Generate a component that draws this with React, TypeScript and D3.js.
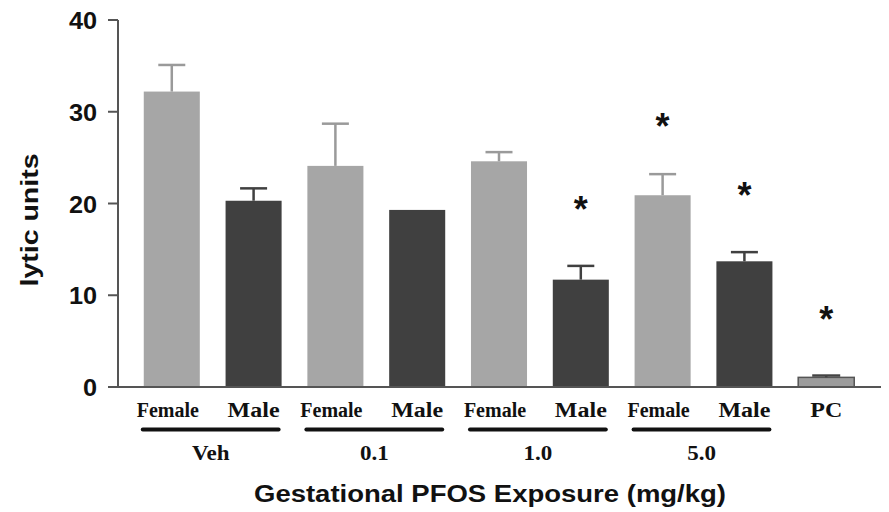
import React from "react";
import * as d3 from "d3";

const categories = ["Female", "Male", "Female", "Male", "Female", "Male", "Female", "Male", "PC"];
const groupLabels = ["Veh", "0.1", "1.0", "5.0"];
const means = [32.2, 20.3, 24.1, 19.3, 24.6, 11.7, 20.9, 13.7, 1.05];
const errors = [2.9, 1.35, 4.6, 0, 1.0, 1.5, 2.3, 1.0, 0.2];
const starValues: (number | null)[] = [null, null, null, null, null, 20.2, 29.3, 21.8, 8.2];
const yTicks = [0, 10, 20, 30, 40];

const W = 889;
const H = 512;
const FEMALE = "#a6a6a6";
const MALE = "#404040";
const PC_FILL = "#9c9c9c";
const AXIS = "#555555";

export default function App() {
  const y = d3.scaleLinear().domain([0, 40]).range([387, 20]);
  const x = d3
    .scaleBand<number>()
    .domain(categories.map((_, i) => i))
    .range([118, 880])
    .padding(0.315);
  const bw = x.bandwidth();

  const colorOf = (i: number) =>
    categories[i] === "PC" ? PC_FILL : categories[i] === "Female" ? FEMALE : MALE;
  const errColorOf = (i: number) =>
    categories[i] === "PC" ? "#444" : categories[i] === "Female" ? "#9a9a9a" : MALE;

  const sans = "'Liberation Sans', Arial, sans-serif";
  const serif = "'Liberation Serif', 'Times New Roman', serif";

  return (
    <svg
      width={W}
      height={H}
      style={{ position: "absolute", left: 0, top: 0, background: "#fff" }}
    >
      {/* bars */}
      {means.map((m, i) => (
        <rect
          key={"b" + i}
          x={x(i)}
          y={y(m)}
          width={bw}
          height={y(0) - y(m)}
          fill={colorOf(i)}
          stroke={categories[i] === "PC" ? "#555" : "none"}
          strokeWidth={categories[i] === "PC" ? 1.5 : 0}
        />
      ))}
      {/* error bars */}
      {means.map((m, i) => {
        if (!errors[i]) return null;
        const cx = (x(i) as number) + bw / 2;
        const half = categories[i] === "PC" ? 14 : 13.5;
        return (
          <g key={"e" + i} stroke={errColorOf(i)} strokeWidth={2.5}>
            <line x1={cx} x2={cx} y1={y(m)} y2={y(m + errors[i])} />
            <line x1={cx - half} x2={cx + half} y1={y(m + errors[i])} y2={y(m + errors[i])} />
          </g>
        );
      })}
      {/* stars */}
      {starValues.map((s, i) =>
        s == null ? null : (
          <text
            key={"s" + i}
            x={(x(i) as number) + bw / 2}
            y={y(s) + 0.57 * 36}
            textAnchor="middle"
            fontFamily={sans}
            fontWeight="bold"
            fontSize={36}
            fill="#111"
          >
            *
          </text>
        )
      )}
      {/* axes */}
      <line x1={118} x2={118} y1={y(40)} y2={y(0)} stroke={AXIS} strokeWidth={2} />
      <line x1={117} x2={881} y1={y(0)} y2={y(0)} stroke={AXIS} strokeWidth={2} />
      {yTicks.map((t) => (
        <g key={"t" + t}>
          <line x1={108} x2={118} y1={y(t)} y2={y(t)} stroke={AXIS} strokeWidth={2} />
          <text
            transform={`translate(97,${y(t)}) scale(1.1,1)`}
            dy="0.4em"
            textAnchor="end"
            fontFamily={sans}
            fontWeight="bold"
            fontSize={23}
            fill="#111"
          >
            {t}
          </text>
        </g>
      ))}
      {/* category labels */}
      {categories.map((c, i) => (
        <text
          key={"c" + i}
          transform={`translate(${(x(i) as number) + bw / 2 + (c === "Female" ? -4 : 0)},416.5) scale(${c === "Female" ? 1 : 1.2},1)`}
          textAnchor="middle"
          fontFamily={serif}
          fontWeight="bold"
          fontSize={20}
          fill="#111"
        >
          {c}
        </text>
      ))}
      {/* group underlines and labels */}
      {groupLabels.map((g, k) => {
        const x0 = (x(2 * k) as number) - 1;
        const x1 = (x(2 * k + 1) as number) + bw - 3;
        return (
          <g key={"g" + k}>
            <line
              x1={x0}
              x2={x1}
              y1={429.5}
              y2={429.5}
              stroke="#111"
              strokeWidth={4}
              strokeLinecap="round"
            />
            <text
              transform={`translate(${(x0 + x1) / 2},460) scale(1.15,1)`}
              textAnchor="middle"
              fontFamily={serif}
              fontWeight="bold"
              fontSize={20}
              fill="#111"
            >
              {g}
            </text>
          </g>
        );
      })}
      {/* axis titles */}
      <text
        x={490}
        y={501.5}
        textAnchor="middle"
        fontFamily={sans}
        fontWeight="bold"
        fontSize={23}
        textLength={472}
        lengthAdjust="spacingAndGlyphs"
        fill="#111"
      >
        Gestational PFOS Exposure (mg/kg)
      </text>
      <text
        transform="translate(38,220) rotate(-90)"
        textAnchor="middle"
        fontFamily={sans}
        fontWeight="bold"
        fontSize={24}
        textLength={133}
        lengthAdjust="spacingAndGlyphs"
        fill="#111"
      >
        lytic units
      </text>
    </svg>
  );
}
